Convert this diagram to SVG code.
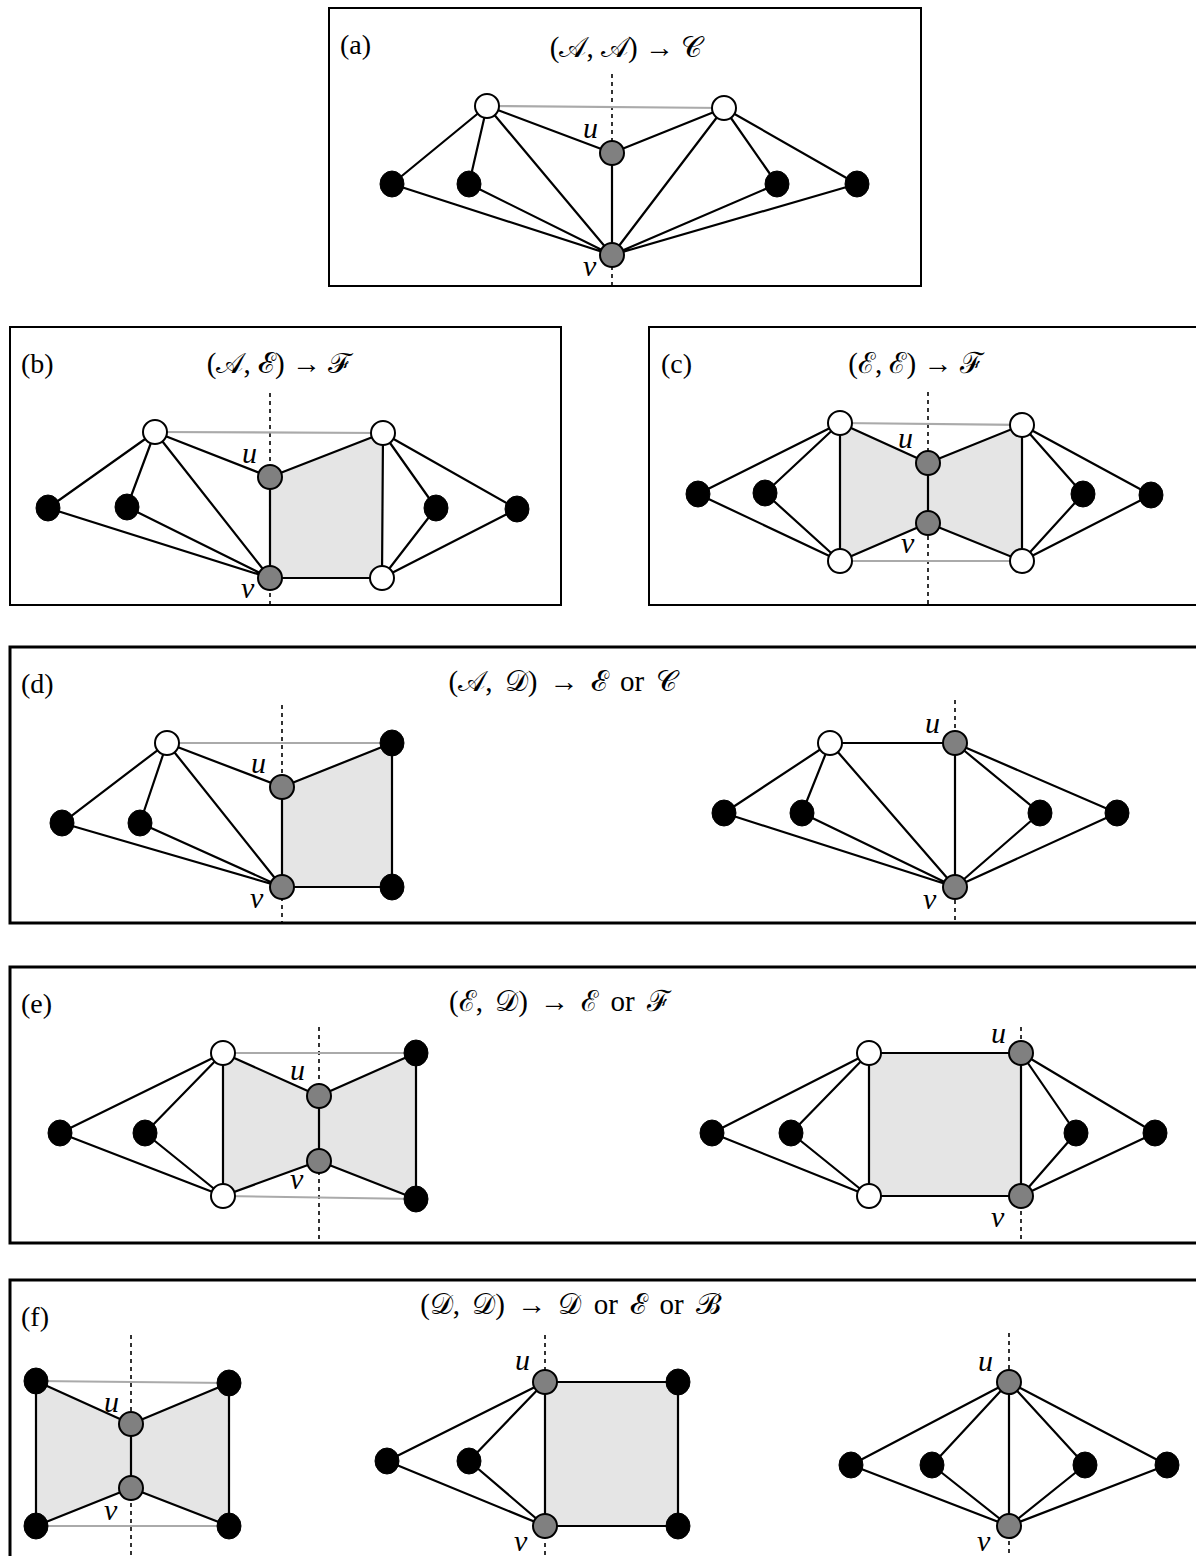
<svg xmlns="http://www.w3.org/2000/svg" width="1196" height="1556" viewBox="0 0 1196 1556">
<style>
.box{fill:none;stroke:#000;stroke-width:2}
.box2{fill:none;stroke:#000;stroke-width:3}
.e{stroke:#000;stroke-width:2.2;fill:none}
.gl{stroke:#aaa;stroke-width:2.2;fill:none}
.d{stroke:#000;stroke-width:1.6;stroke-dasharray:4 4;fill:none}
.sh{fill:#e5e5e5;stroke:none}
.w{fill:#fff;stroke:#000;stroke-width:2}
.gr{fill:#808080;stroke:#000;stroke-width:2}
.b{fill:#000;stroke:#000;stroke-width:1}
.lbl{font-family:"Liberation Serif","DejaVu Serif",serif;font-size:28px;fill:#000}
.t{font-family:"Liberation Serif","DejaVu Serif",serif;font-size:29px;fill:#000;text-anchor:middle}
.tw{word-spacing:5px}
.it{font-family:"Liberation Serif","DejaVu Serif",serif;font-style:italic;font-size:30px;fill:#000}
</style>
<rect width="1196" height="1556" fill="#fff"/>

<!-- Panel boxes -->
<g id="frames">
<rect class="box" x="329" y="8" width="592" height="278"/>
<rect class="box" x="10" y="327" width="551" height="278"/>
<rect class="box" x="649" y="327" width="560" height="278"/>
<rect class="box2" x="10" y="647" width="1200" height="276"/>
<rect class="box2" x="10" y="967" width="1200" height="276"/>
<rect class="box2" x="10" y="1280" width="1200" height="290"/>
</g>

<g id="texts">
<text class="lbl" x="340" y="54">(a)</text>
<text class="t" x="626" y="57">(𝒜, 𝒜) → 𝒞</text>
<text class="lbl" x="21" y="373">(b)</text>
<text class="t" x="278" y="373">(𝒜, ℰ) → ℱ</text>
<text class="lbl" x="661" y="373">(c)</text>
<text class="t" x="916" y="373">(ℰ, ℰ) → ℱ</text>
<text class="lbl" x="21" y="693">(d)</text>
<text class="t tw" x="563" y="691">(𝒜, 𝒟) → ℰ or 𝒞</text>
<text class="lbl" x="21" y="1013">(e)</text>
<text class="t tw" x="560" y="1011">(ℰ, 𝒟) → ℰ or ℱ</text>
<text class="lbl" x="21" y="1326">(f)</text>
<text class="t tw" x="570" y="1314">(𝒟, 𝒟) → 𝒟 or ℰ or ℬ</text>
</g>

<!-- shading -->
<g id="shading">
<polygon class="sh" points="270,477 383,433 382,578 270,578"/>
<polygon class="sh" points="840,423 928,463 928,523 840,561"/>
<polygon class="sh" points="928,463 1022,425 1022,561 928,523"/>
<polygon class="sh" points="282,787 392,743 392,887 282,887"/>
<polygon class="sh" points="223,1053 319,1096 319,1161 223,1196"/>
<polygon class="sh" points="319,1096 416,1053 416,1199 319,1161"/>
<polygon class="sh" points="869,1053 1021,1053 1021,1196 869,1196"/>
<polygon class="sh" points="36,1381 131,1424 131,1488 36,1526"/>
<polygon class="sh" points="131,1424 229,1383 229,1526 131,1488"/>
<polygon class="sh" points="545,1382 678,1382 678,1526 545,1526"/>
</g>

<g id="connectors">
<!-- dashed axes -->
<line class="d" x1="612" y1="74" x2="612" y2="286"/>
<line class="d" x1="270" y1="393" x2="270" y2="605"/>
<line class="d" x1="928" y1="392" x2="928" y2="605"/>
<line class="d" x1="282" y1="705" x2="282" y2="923"/>
<line class="d" x1="955" y1="700" x2="955" y2="923"/>
<line class="d" x1="319" y1="1027" x2="319" y2="1243"/>
<line class="d" x1="1021" y1="1027" x2="1021" y2="1243"/>
<line class="d" x1="131" y1="1335" x2="131" y2="1556"/>
<line class="d" x1="545" y1="1335" x2="545" y2="1556"/>
<line class="d" x1="1009" y1="1333" x2="1009" y2="1556"/>

<!-- gray lines -->
<line class="gl" x1="487" y1="106" x2="724" y2="108"/>
<line class="gl" x1="155" y1="432" x2="383" y2="433"/>
<line class="gl" x1="840" y1="423" x2="1022" y2="425"/>
<line class="gl" x1="840" y1="561" x2="1022" y2="561"/>
<line class="gl" x1="167" y1="743" x2="392" y2="743"/>
<line class="gl" x1="223" y1="1053" x2="416" y2="1053"/>
<line class="gl" x1="223" y1="1196" x2="416" y2="1199"/>
<line class="gl" x1="36" y1="1381" x2="229" y2="1383"/>
<line class="gl" x1="36" y1="1526" x2="229" y2="1526"/>

<!-- (a) -->
<path class="e" d="M487,106L392,184M487,106L469,184M487,106L612,153M487,106L612,255M724,108L612,153M724,108L612,255M724,108L777,184M724,108L857,184M612,153L612,255M392,184L612,255M469,184L612,255M777,184L612,255M857,184L612,255"/>
<!-- (b) -->
<path class="e" d="M155,432L48,508M155,432L127,507M155,432L270,477M155,432L270,578M48,508L270,578M127,507L270,578M270,477L270,578M270,477L383,433M383,433L382,578M270,578L382,578M383,433L436,508M383,433L517,509M382,578L436,508M382,578L517,509"/>
<!-- (c) -->
<path class="e" d="M698,494L840,423M698,494L840,561M765,493L840,423M765,493L840,561M840,423L840,561M840,423L928,463M840,561L928,523M928,463L928,523M928,463L1022,425M928,523L1022,561M1022,425L1022,561M1022,425L1083,494M1022,425L1151,495M1022,561L1083,494M1022,561L1151,495"/>
<!-- (d) left -->
<path class="e" d="M167,743L62,823M167,743L140,823M167,743L282,787M167,743L282,887M62,823L282,887M140,823L282,887M282,787L282,887M282,787L392,743M392,743L392,887M282,887L392,887"/>
<!-- (d) right -->
<path class="e" d="M830,743L955,743M830,743L724,813M830,743L802,813M830,743L955,887M724,813L955,887M802,813L955,887M955,743L955,887M955,743L1040,813M955,743L1117,813M1040,813L955,887M1117,813L955,887"/>
<!-- (e) left -->
<path class="e" d="M60,1133L223,1053M60,1133L223,1196M145,1133L223,1053M145,1133L223,1196M223,1053L223,1196M223,1053L319,1096M223,1196L319,1161M319,1096L319,1161M319,1096L416,1053M319,1161L416,1199M416,1053L416,1199"/>
<!-- (e) right -->
<path class="e" d="M712,1133L869,1053M712,1133L869,1196M791,1133L869,1053M791,1133L869,1196M869,1053L869,1196M869,1053L1021,1053M869,1196L1021,1196M1021,1053L1021,1196M1021,1053L1076,1133M1021,1053L1155,1133M1021,1196L1076,1133M1021,1196L1155,1133"/>
<!-- (f) left -->
<path class="e" d="M36,1381L36,1526M36,1381L131,1424M36,1526L131,1488M131,1424L131,1488M131,1424L229,1383M131,1488L229,1526M229,1383L229,1526"/>
<!-- (f) middle -->
<path class="e" d="M387,1461L545,1382M387,1461L545,1526M469,1461L545,1382M469,1461L545,1526M545,1382L545,1526M545,1382L678,1382M545,1526L678,1526M678,1382L678,1526"/>
<!-- (f) right -->
<path class="e" d="M851,1465L1009,1382M851,1465L1009,1526M932,1465L1009,1382M932,1465L1009,1526M1085,1465L1009,1382M1085,1465L1009,1526M1167,1465L1009,1382M1167,1465L1009,1526M1009,1382L1009,1526"/>
</g>

<!-- nodes (a) -->
<g id="a-nodes">
<circle id="a-w1" class="w" cx="487" cy="106" r="12"/>
<circle id="a-w2" class="w" cx="724" cy="108" r="12"/>
<circle id="a-u" class="gr" cx="612" cy="153" r="12"/>
<circle id="a-v" class="gr" cx="612" cy="255" r="12"/>
<ellipse class="b" cx="392" cy="184" rx="12" ry="13"/>
<ellipse class="b" cx="469" cy="184" rx="12" ry="13"/>
<ellipse class="b" cx="777" cy="184" rx="12" ry="13"/>
<ellipse class="b" cx="857" cy="184" rx="12" ry="13"/>
<text class="it" x="583" y="138">u</text>
<text class="it" x="583" y="276">v</text>
</g>
<!-- nodes (b) -->
<g id="b-nodes">
<circle class="w" cx="155" cy="432" r="12"/>
<circle class="w" cx="383" cy="433" r="12"/>
<circle class="w" cx="382" cy="578" r="12"/>
<circle class="gr" cx="270" cy="477" r="12"/>
<circle class="gr" cx="270" cy="578" r="12"/>
<ellipse class="b" cx="48" cy="508" rx="12" ry="13"/>
<ellipse class="b" cx="127" cy="507" rx="12" ry="13"/>
<ellipse class="b" cx="436" cy="508" rx="12" ry="13"/>
<ellipse class="b" cx="517" cy="509" rx="12" ry="13"/>
<text class="it" x="242" y="463">u</text>
<text class="it" x="241" y="598">v</text>
</g>
<!-- nodes (c) -->
<g id="c-nodes">
<circle class="w" cx="840" cy="423" r="12"/>
<circle class="w" cx="1022" cy="425" r="12"/>
<circle class="w" cx="840" cy="561" r="12"/>
<circle class="w" cx="1022" cy="561" r="12"/>
<circle class="gr" cx="928" cy="463" r="12"/>
<circle class="gr" cx="928" cy="523" r="12"/>
<ellipse class="b" cx="698" cy="494" rx="12" ry="13"/>
<ellipse class="b" cx="765" cy="493" rx="12" ry="13"/>
<ellipse class="b" cx="1083" cy="494" rx="12" ry="13"/>
<ellipse class="b" cx="1151" cy="495" rx="12" ry="13"/>
<text class="it" x="898" y="448">u</text>
<text class="it" x="901" y="553">v</text>
</g>
<!-- nodes (d) -->
<g id="d-nodes">
<circle class="w" cx="167" cy="743" r="12"/>
<circle class="gr" cx="282" cy="787" r="12"/>
<circle class="gr" cx="282" cy="887" r="12"/>
<ellipse class="b" cx="62" cy="823" rx="12" ry="13"/>
<ellipse class="b" cx="140" cy="823" rx="12" ry="13"/>
<ellipse class="b" cx="392" cy="743" rx="12" ry="13"/>
<ellipse class="b" cx="392" cy="887" rx="12" ry="13"/>
<text class="it" x="251" y="773">u</text>
<text class="it" x="250" y="908">v</text>
<circle class="w" cx="830" cy="743" r="12"/>
<circle class="gr" cx="955" cy="743" r="12"/>
<circle class="gr" cx="955" cy="887" r="12"/>
<ellipse class="b" cx="724" cy="813" rx="12" ry="13"/>
<ellipse class="b" cx="802" cy="813" rx="12" ry="13"/>
<ellipse class="b" cx="1040" cy="813" rx="12" ry="13"/>
<ellipse class="b" cx="1117" cy="813" rx="12" ry="13"/>
<text class="it" x="925" y="733">u</text>
<text class="it" x="923" y="909">v</text>
</g>
<!-- nodes (e) -->
<g id="e-nodes">
<circle class="w" cx="223" cy="1053" r="12"/>
<circle class="w" cx="223" cy="1196" r="12"/>
<circle class="gr" cx="319" cy="1096" r="12"/>
<circle class="gr" cx="319" cy="1161" r="12"/>
<ellipse class="b" cx="416" cy="1053" rx="12" ry="13"/>
<ellipse class="b" cx="416" cy="1199" rx="12" ry="13"/>
<ellipse class="b" cx="60" cy="1133" rx="12" ry="13"/>
<ellipse class="b" cx="145" cy="1133" rx="12" ry="13"/>
<text class="it" x="290" y="1080">u</text>
<text class="it" x="290" y="1189">v</text>
<circle class="w" cx="869" cy="1053" r="12"/>
<circle class="w" cx="869" cy="1196" r="12"/>
<circle class="gr" cx="1021" cy="1053" r="12"/>
<circle class="gr" cx="1021" cy="1196" r="12"/>
<ellipse class="b" cx="712" cy="1133" rx="12" ry="13"/>
<ellipse class="b" cx="791" cy="1133" rx="12" ry="13"/>
<ellipse class="b" cx="1076" cy="1133" rx="12" ry="13"/>
<ellipse class="b" cx="1155" cy="1133" rx="12" ry="13"/>
<text class="it" x="991" y="1043">u</text>
<text class="it" x="991" y="1227">v</text>
</g>
<!-- nodes (f) -->
<g id="f-nodes">
<ellipse class="b" cx="36" cy="1381" rx="12" ry="13"/>
<ellipse class="b" cx="229" cy="1383" rx="12" ry="13"/>
<ellipse class="b" cx="36" cy="1526" rx="12" ry="13"/>
<ellipse class="b" cx="229" cy="1526" rx="12" ry="13"/>
<circle class="gr" cx="131" cy="1424" r="12"/>
<circle class="gr" cx="131" cy="1488" r="12"/>
<text class="it" x="104" y="1412">u</text>
<text class="it" x="104" y="1520">v</text>
<circle class="gr" cx="545" cy="1382" r="12"/>
<circle class="gr" cx="545" cy="1526" r="12"/>
<ellipse class="b" cx="678" cy="1382" rx="12" ry="13"/>
<ellipse class="b" cx="678" cy="1526" rx="12" ry="13"/>
<ellipse class="b" cx="387" cy="1461" rx="12" ry="13"/>
<ellipse class="b" cx="469" cy="1461" rx="12" ry="13"/>
<text class="it" x="515" y="1370">u</text>
<text class="it" x="514" y="1551">v</text>
<circle class="gr" cx="1009" cy="1382" r="12"/>
<circle class="gr" cx="1009" cy="1526" r="12"/>
<ellipse class="b" cx="851" cy="1465" rx="12" ry="13"/>
<ellipse class="b" cx="932" cy="1465" rx="12" ry="13"/>
<ellipse class="b" cx="1085" cy="1465" rx="12" ry="13"/>
<ellipse class="b" cx="1167" cy="1465" rx="12" ry="13"/>
<text class="it" x="978" y="1371">u</text>
<text class="it" x="977" y="1551">v</text>
</g>
</svg>
